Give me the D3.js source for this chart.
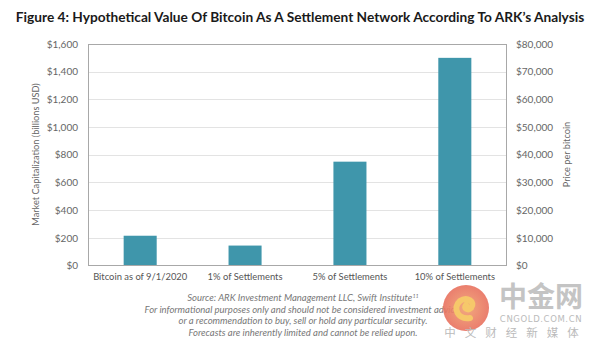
<!DOCTYPE html>
<html><head><meta charset="utf-8">
<script src="https://cdn.jsdelivr.net/npm/d3@7"></script>
<style>body{margin:0;background:#fff}svg{display:block}</style>
</head><body>
<script>
const categories = ["Bitcoin as of 9/1/2020", "1% of Settlements", "5% of Settlements", "10% of Settlements"];
const marketCap = [215, 144, 750, 1500];
const leftTicks = [0, 200, 400, 600, 800, 1000, 1200, 1400, 1600];
const rightTicks = [0, 10000, 20000, 30000, 40000, 50000, 60000, 70000, 80000];
const footer = [
  "Source: ARK Investment Management LLC, Swift Institute",
  "For informational purposes only and should not be considered investment advice,",
  "or a recommendation to buy, sell or hold any particular security.",
  "Forecasts are inherently limited and cannot be relied upon."
];

const W = 600, H = 351;
const m = {l: 88, r: 93, t: 44, b: 86};
const svg = d3.select("body").append("svg").attr("width", W).attr("height", H);
const font = "Lato, 'Open Sans', sans-serif";

svg.append("text").attr("x", 300).attr("y", 22).attr("text-anchor", "middle")
  .attr("font-family", font).attr("font-weight", 700).attr("font-size", 13.7).attr("fill", "#1a1a1a")
  .text("Figure 4: Hypothetical Value Of Bitcoin As A Settlement Network According To ARK\u2019s Analysis");

const x = d3.scaleBand().domain(categories).range([m.l, W - m.r]).paddingInner(0.685).paddingOuter(0.34);
const y = d3.scaleLinear().domain([0, 1600]).range([H - m.b + 0.5, m.t]);
const y2 = d3.scaleLinear().domain([0, 80000]).range([H - m.b + 0.5, m.t]);

// gridlines
svg.append("g").selectAll("line").data(leftTicks.slice(1, -1)).join("line")
  .attr("x1", m.l).attr("x2", W - m.r).attr("y1", d => Math.round(y(d)) + 0.5).attr("y2", d => Math.round(y(d)) + 0.5)
  .attr("stroke", "#e3e3e3").attr("stroke-width", 1);

// bars
svg.append("g").selectAll("rect").data(marketCap).join("rect")
  .attr("x", (d, i) => x(categories[i])).attr("width", x.bandwidth())
  .attr("y", d => y(d)).attr("height", d => y(0) - y(d))
  .attr("fill", "#3f96ab");

// frame
svg.append("rect").attr("x", m.l + 0.5).attr("y", m.t + 0.5).attr("width", W - m.r - m.l - 1).attr("height", H - m.b - m.t)
  .attr("fill", "none").attr("stroke", "#a8a8a8").attr("stroke-width", 1);

// left axis
const la = svg.append("g").attr("transform", `translate(${m.l - 10},0)`)
  .call(d3.axisLeft(y).tickValues(leftTicks).tickSize(0).tickPadding(0).tickFormat(d => "$" + d3.format(",")(d)));
la.select(".domain").remove();
la.selectAll("text").attr("font-family", font).attr("font-size", 10).attr("fill", "#666");

// right axis
const ra = svg.append("g").attr("transform", `translate(${W - m.r + 9},0)`)
  .call(d3.axisRight(y2).tickValues(rightTicks).tickSize(0).tickPadding(0).tickFormat(d => "$" + d3.format(",")(d)));
ra.select(".domain").remove();
ra.selectAll("text").attr("font-family", font).attr("font-size", 10).attr("fill", "#666");

// bottom axis
const ba = svg.append("g").attr("transform", `translate(0,${H - m.b})`)
  .call(d3.axisBottom(x).tickSize(0).tickPadding(8));
ba.select(".domain").remove();
ba.selectAll("text").attr("font-family", font).attr("font-size", 9.4).attr("fill", "#555");

// axis titles
svg.append("text").attr("transform", `translate(39,${(m.t + H - m.b) / 2}) rotate(-90)`).attr("text-anchor", "middle")
  .attr("font-family", font).attr("font-size", 9.2).attr("fill", "#666").text("Market Capitalization (billions USD)");
svg.append("text").attr("transform", `translate(570,${(m.t + H - m.b) / 2}) rotate(-90)`).attr("text-anchor", "middle")
  .attr("font-family", font).attr("font-size", 9.2).attr("fill", "#666").text("Price per bitcoin");

// footer
const ft = svg.append("g").attr("font-family", font).attr("font-style", "italic").attr("font-size", 9.5).attr("fill", "#777").attr("text-anchor", "middle");
footer.forEach((t, i) => {
  const tx = ft.append("text").attr("x", 303).attr("y", 301 + i * 11.7).text(t);
  if (i === 0) tx.append("tspan").attr("font-size", 5.5).attr("dy", -3.5).text("11");
});

// watermark
const wm = svg.append("g");
const grad = svg.append("defs").append("radialGradient").attr("id", "wg");
grad.append("stop").attr("offset", "0%").attr("stop-color", "#f0a070");
grad.append("stop").attr("offset", "100%").attr("stop-color", "#e8705e");
wm.append("circle").attr("cx", 466).attr("cy", 308).attr("r", 23).attr("fill", "url(#wg)").attr("opacity", 0.9);
wm.append("path").attr("d", "M470,318 C458,320 452,308 460,301 C467,296 476,302 471,308 C468,311 463,308 466,305")
  .attr("fill", "none").attr("stroke", "#f6c86a").attr("stroke-width", 6).attr("stroke-linecap", "round");
wm.append("text").attr("x", 541).attr("y", 307).attr("text-anchor", "middle").attr("font-family", "'Noto Sans CJK SC'")
  .attr("font-size", 28).attr("font-weight", 700).attr("fill", "#c4c4c4").text("中金网");
wm.append("text").attr("x", 541).attr("y", 322).attr("text-anchor", "middle").attr("font-family", "'DejaVu Sans', sans-serif")
  .attr("font-size", 8.5).attr("fill", "#bbb").attr("letter-spacing", 0.6).text("CNGOLD.COM.CN");
wm.append("text").attr("x", 516).attr("y", 337).attr("text-anchor", "middle").attr("font-family", "'Noto Sans CJK SC'")
  .attr("font-size", 11.5).attr("fill", "#bbb").attr("letter-spacing", 9).text("中文财经新媒体");
</script>
</body></html>
